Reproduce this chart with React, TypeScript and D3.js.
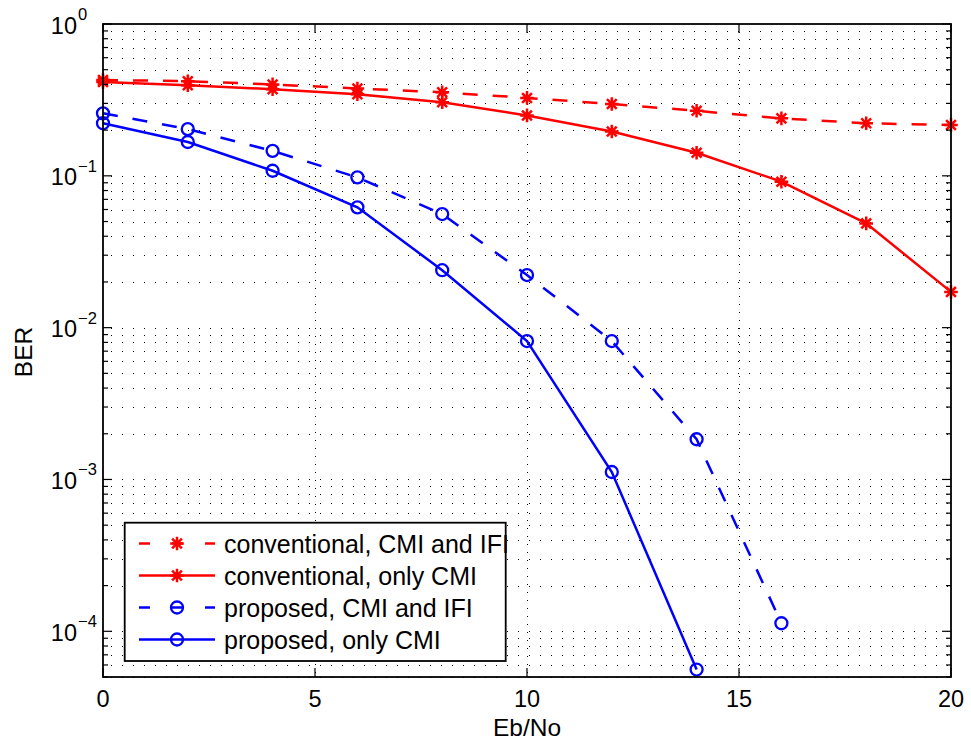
import React from "react";
import * as d3 from "d3";

const ebno = [0, 2, 4, 6, 8, 10, 12, 14, 16, 18, 20];
const convBoth = [0.428, 0.42, 0.4, 0.376, 0.355, 0.326, 0.297, 0.268, 0.239, 0.222, 0.216];
const convCMI = [0.415, 0.395, 0.372, 0.345, 0.305, 0.25, 0.196, 0.142, 0.0915, 0.0486, 0.0172];
const propBoth = [0.258, 0.203, 0.146, 0.0977, 0.056, 0.0222, 0.00816, 0.00184, 0.000113];
const propCMI = [0.222, 0.167, 0.108, 0.062, 0.0239, 0.00816, 0.00112, 0.000056];

const xTicks = [0, 5, 10, 15, 20];
const yDecades = [0, -1, -2, -3, -4];
const seriesNames = [
  "conventional, CMI and IFI",
  "conventional, only CMI",
  "proposed, CMI and IFI",
  "proposed, only CMI",
];

const W = 971, H = 743;
const L = 103, R = 951, T = 24, B = 677;
const FONT = "'Liberation Sans', Arial, Helvetica, sans-serif";

const x = d3.scaleLinear().domain([0, 20]).range([L, R]);
const y = d3.scaleLog().domain([5e-5, 1]).range([B, T]);

type Series = { name: string; vals: number[]; color: string; dashed: boolean; marker: "star" | "circle" };
const series: Series[] = [
  { name: seriesNames[0], vals: convBoth, color: "#ff0000", dashed: true, marker: "star" },
  { name: seriesNames[1], vals: convCMI, color: "#ff0000", dashed: false, marker: "star" },
  { name: seriesNames[2], vals: propBoth, color: "#0000ff", dashed: true, marker: "circle" },
  { name: seriesNames[3], vals: propCMI, color: "#0000ff", dashed: false, marker: "circle" },
];

function Marker({ type, cx, cy, color }: { type: string; cx: number; cy: number; color: string }) {
  if (type === "circle") {
    return <circle cx={cx} cy={cy} r={6} fill="none" stroke={color} strokeWidth={2.3} />;
  }
  const r = 6.8, d = r * 0.72;
  const p = `M${cx - r},${cy}L${cx + r},${cy}M${cx},${cy - r}L${cx},${cy + r}M${cx - d},${cy - d}L${cx + d},${cy + d}M${cx - d},${cy + d}L${cx + d},${cy - d}`;
  return <path d={p} stroke={color} strokeWidth={2.5} fill="none" />;
}

export default function App() {
  const minorVals: number[] = [];
  for (let e = -5; e <= -1; e++) {
    for (let k = 1; k <= 9; k++) {
      const v = k * Math.pow(10, e);
      if (v >= 5e-5 && v < 1) minorVals.push(v);
    }
  }
  const line = d3.line<number>().x((_, i) => x(ebno[i])).y((v) => y(v));

  const legX = 124.7, legY = 522.7, legW = 381, legH = 138.3;
  const rowY = (i: number) => 543.5 + i * 32;

  return (
    <svg width={W} height={H} style={{ position: "absolute", left: 0, top: 0, background: "#fff" }} fontFamily={FONT}>
      <rect x={0} y={0} width={W} height={H} fill="#fff" />
      {/* grid */}
      <g stroke="#000" strokeWidth={1} fill="none">
        {minorVals.map((v, i) => (
          <line key={"h" + i} x1={L} x2={R} y1={Math.round(y(v)) + 0.5} y2={Math.round(y(v)) + 0.5} strokeDasharray="1,10" strokeDashoffset={-8} />
        ))}
        {xTicks.slice(1, -1).map((t) => (
          <line key={"v" + t} x1={Math.round(x(t)) + 0.5} x2={Math.round(x(t)) + 0.5} y1={T} y2={B} strokeDasharray="1,7" />
        ))}
      </g>
      {/* series */}
      {series.map((s, si) => (
        <g key={si}>
          <path d={line(s.vals) || ""} fill="none" stroke={s.color} strokeWidth={2.5} strokeDasharray={s.dashed ? "15,15" : undefined} />
          {s.vals.map((v, i) => (
            <Marker key={i} type={s.marker} cx={x(ebno[i])} cy={y(v)} color={s.color} />
          ))}
        </g>
      ))}
      {/* axes box */}
      <rect x={L} y={T} width={R - L} height={B - T} fill="none" stroke="#000" strokeWidth={1.8} />
      {/* ticks */}
      <g stroke="#000" strokeWidth={1.2}>
        {xTicks.map((t) => (
          <g key={"xt" + t}>
            <line x1={x(t)} x2={x(t)} y1={B} y2={B - 9} />
            <line x1={x(t)} x2={x(t)} y1={T} y2={T + 9} />
          </g>
        ))}
        {minorVals.map((v, i) => {
          const major = Math.abs(Math.log10(v) - Math.round(Math.log10(v))) < 1e-9;
          const len = major ? 9 : 5;
          const yy = y(v);
          return (
            <g key={"yt" + i}>
              <line x1={L} x2={L + len} y1={yy} y2={yy} />
              <line x1={R} x2={R - len} y1={yy} y2={yy} />
            </g>
          );
        })}
        <line x1={L} x2={L + 9} y1={y(1)} y2={y(1)} />
        <line x1={R} x2={R - 9} y1={y(1)} y2={y(1)} />
      </g>
      {/* tick labels */}
      {xTicks.map((t) => (
        <text key={"xl" + t} x={x(t)} y={707} textAnchor="middle" fontSize={23.5} fill="#000">
          {t}
        </text>
      ))}
      {yDecades.map((e) => {
        const yy = y(Math.pow(10, e));
        return (
          <g key={"yl" + e}>
            <text x={77} y={yy + 9.5} textAnchor="end" fontSize={23.5} fill="#000">10</text>
            <text x={78} y={yy - 4} textAnchor="start" fontSize={16.5} fill="#000">
              {e === 0 ? "0" : "\u2212" + Math.abs(e)}
            </text>
          </g>
        );
      })}
      {/* axis labels */}
      <text x={(L + R) / 2} y={736} textAnchor="middle" fontSize={24.5} fill="#000">Eb/No</text>
      <text transform={`translate(32,352) rotate(-90)`} textAnchor="middle" fontSize={24.5} fill="#000">BER</text>
      {/* legend */}
      <rect x={legX} y={legY} width={legW} height={legH} fill="#fff" stroke="#000" strokeWidth={1.8} />
      {series.map((s, i) => {
        const ry = rowY(i);
        return (
          <g key={"lg" + i}>
            <line x1={139} x2={215} y1={ry} y2={ry} stroke={s.color} strokeWidth={2.5} strokeDasharray={s.dashed ? "11,22" : undefined} />
            <Marker type={s.marker} cx={177} cy={ry} color={s.color} />
            <text x={224} y={ry + 9} fontSize={25} fill="#000">{s.name}</text>
          </g>
        );
      })}
    </svg>
  );
}
